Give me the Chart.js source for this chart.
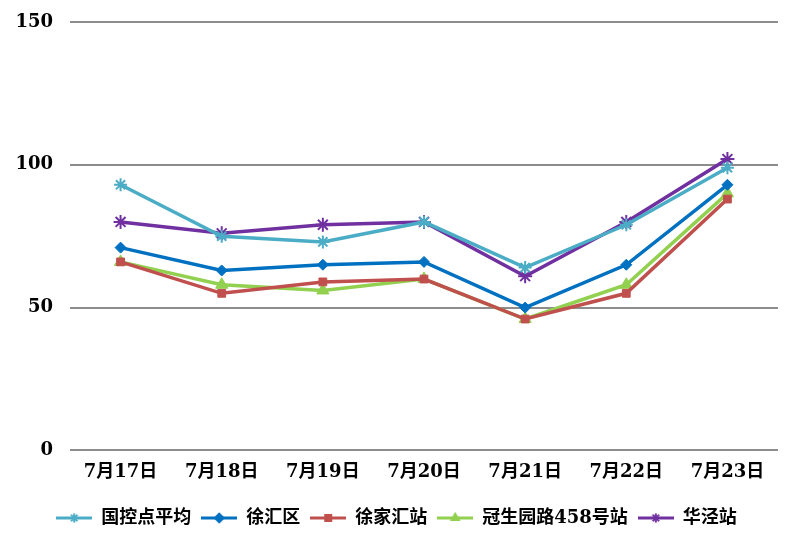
<!DOCTYPE html>
<html>
<head>
<meta charset="utf-8">
<script src="https://cdn.jsdelivr.net/npm/chart.js@4/dist/chart.umd.min.js"></script>
<style>
  body { margin: 0; background: #fff; }
  #wrap { width: 794px; height: 546px; }
</style>
</head>
<body>
<div id="wrap"><canvas id="line-chart"></canvas></div>
<script>
// data
const days = ["7月17日", "7月18日", "7月19日", "7月20日", "7月21日", "7月22日", "7月23日"];
const guokong = [93, 75, 73, 80, 64, 79, 99];
const xuhuiqu = [71, 63, 65, 66, 50, 65, 93];
const xujiahui = [66, 55, 59, 60, 46, 55, 88];
const guanshengyuan = [66, 58, 56, 60, 46, 58, 90];
const huajing = [80, 76, 79, 80, 61, 80, 102];
const yTicks = [0, 50, 100, 150];

const FONT = "'DejaVu Serif', 'Noto Sans CJK SC', serif";

const series = [
  { label: "国控点平均", data: guokong, color: "#4BACC6", style: "star", r: 6.5 },
  { label: "徐汇区", data: xuhuiqu, color: "#0070C0", style: "rectRot", r: 5.5 },
  { label: "徐家汇站", data: xujiahui, color: "#C0504D", style: "rect", r: 5.5 },
  { label: "冠生园路458号站", data: guanshengyuan, color: "#92D050", style: "triangle", r: 7 },
  { label: "华泾站", data: huajing, color: "#7030A0", style: "star", r: 7 },
];

// little line + marker pictures for the legend
function legendIcon(s) {
  const c = document.createElement("canvas");
  c.width = 36;
  c.height = 14;
  const g = c.getContext("2d");
  g.strokeStyle = s.color;
  g.lineWidth = 3;
  g.beginPath();
  g.moveTo(0, 7);
  g.lineTo(36, 7);
  g.stroke();
  g.fillStyle = s.color;
  g.lineWidth = 1.5;
  Chart.helpers.drawPoint(g, { pointStyle: s.style, radius: 4.5, rotation: 0, borderWidth: 1.5 }, 18, 7);
  g.fill();
  g.stroke();
  return c;
}

const ctx = document.getElementById("line-chart");
const chart = new Chart(ctx, {
  type: "line",
  data: {
    labels: days,
    datasets: series.map((s) => ({
      label: s.label,
      data: s.data,
      borderColor: s.color,
      backgroundColor: s.color,
      borderWidth: 3.5,
      pointStyle: s.style,
      pointRadius: s.r,
      pointBorderWidth: s.style == "star" ? 2 : 1,
      pointBorderColor: s.color,
      pointBackgroundColor: s.color,
      tension: 0,
      fill: false,
    })),
  },
  options: {
    responsive: true,
    maintainAspectRatio: false,
    animation: false,
    layout: { autoPadding: false, padding: { left: 15, right: 16, top: 22, bottom: 9 } },
    scales: {
      x: {
        offset: true,
        grid: { display: false, offset: true },
        border: { display: false },
        afterFit: (scale) => {
          scale.height += 13; // gap under the day labels
        },
        ticks: {
          color: "#000",
          padding: 3,
          maxRotation: 0,
          autoSkip: false,
          font: { family: FONT, size: 18, weight: "bold" },
        },
      },
      y: {
        min: 0,
        max: 150,
        afterBuildTicks: (axis) => {
          axis.ticks = yTicks.map((v) => ({ value: v }));
        },
        afterFit: (scale) => {
          // labels end 17px left of the plot, plot starts at x=70
          scale.width = 55;
          scale.paddingTop = 0;
          scale.paddingBottom = 0;
        },
        grid: { color: "#8C8C8C", lineWidth: 2, drawTicks: false },
        border: { display: false },
        ticks: {
          color: "#000",
          padding: 17,
          font: { family: FONT, size: 18, weight: "bold" },
        },
      },
    },
    plugins: {
      tooltip: { enabled: false },
      legend: {
        position: "bottom",
        labels: {
          usePointStyle: true,
          pointStyleWidth: 36,
          padding: 10,
          color: "#000",
          font: { family: FONT, size: 18, weight: "bold" },
          generateLabels: (ch) =>
            series.map((s, i) => ({
              text: s.label,
              pointStyle: legendIcon(s),
              fillStyle: s.color,
              strokeStyle: s.color,
              lineWidth: 0,
              hidden: false,
              datasetIndex: i,
            })),
        },
      },
    },
  },
});
</script>
</body>
</html>
